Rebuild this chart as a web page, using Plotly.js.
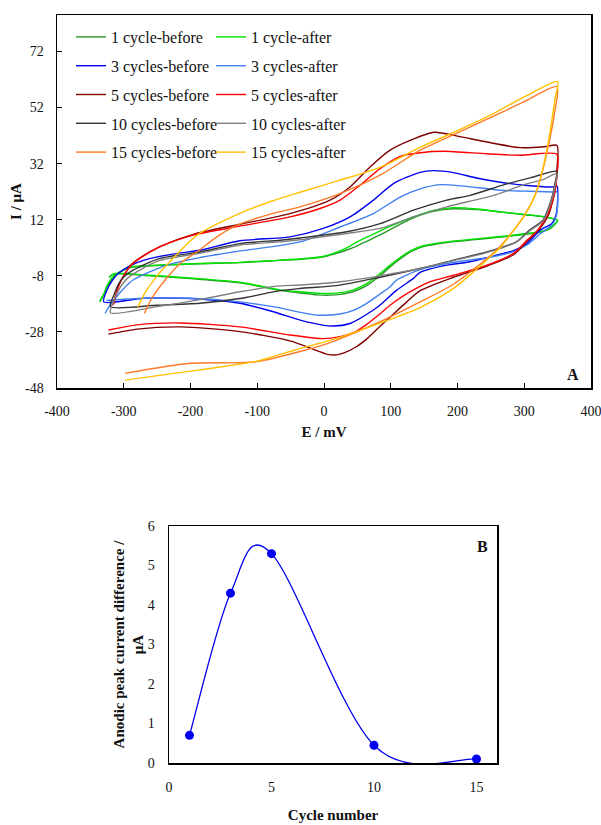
<!DOCTYPE html>
<html><head><meta charset="utf-8">
<script src="https://cdn.plot.ly/plotly-3.0.1.min.js"></script>
<style>html,body{margin:0;padding:0;background:#fff}#chart{width:601px;height:825px}</style>
</head><body><div id="chart"></div>
<script>
// ---------- Panel A data: potential E (mV) and current I (µA) ----------
const c1b_E = [-336,-330,-325,-315,-300,-290,-250,-186,-126,-66,-36,0,14,34,49,64,84,99,119,134,164,194,230,264,300,324,342,350, 340,324,280,230,184,150,130,115,99,84,64,44,24,9,-10,-36,-66,-126,-200,-267,-315,-322];
const c1b_I = [-17.3,-14.8,-12,-8.4,-6,-5,-4.3,-3.7,-3.3,-2.5,-2.1,-1.2,-0.3,1.2,2.6,4.3,6.6,8.5,11,12.7,15,15.9,15.6,14.8,13.8,13.2,12.4,11.8, 9,7.6,6.2,5,3.9,2.5,0.6,-1.8,-4.8,-8,-11.5,-13.6,-14.6,-14.9,-14.8,-14.1,-13.2,-10.5,-9,-7.9,-7.4,-8.6];

const c1a_E = [-336,-330,-325,-315,-300,-290,-250,-186,-126,-66,-36,0,14,34,49,64,84,99,119,134,164,194,230,264,300,324,342,350, 340,324,280,230,184,150,130,115,99,84,64,44,24,9,-10,-36,-66,-126,-200,-267,-315,-322];
const c1a_I = [-17,-14.5,-11.5,-8,-5.8,-4.8,-4.2,-3.6,-3.2,-2.4,-2,-1,0,2,4,5.8,8,9.6,11.6,13,15.3,16.3,15.8,14.8,13.9,13.3,12.5,11.8, 9.2,7.8,6.4,5.2,4.1,2.8,1,-1.3,-4.2,-7.2,-10.8,-13,-14,-14.3,-14.2,-13.7,-13,-10.3,-8.8,-7.7,-7.2,-8.4];

const c3b_E = [-330,-325,-320,-310,-298,-280,-260,-220,-186,-126,-51,-1,39,74,104,144,164,194,230,269,300,343,349, 349,346,341,324,304,284,269,219,184,144,134,109,84,74,39,14,-26,-76,-126,-200,-270,-330];
const c3b_I = [-17.3,-13,-10.7,-7.5,-5.4,-3.3,-1.8,0,1.1,4.5,5.9,8.9,13,19,24.9,28.9,29.5,28.8,26.8,25.2,24.3,23.7,24, 15.4,12.5,10.6,8.3,3.5,1,0,-3,-4.2,-6.8,-8.9,-13.1,-18.4,-20.2,-25,-25.9,-24.4,-20.8,-17.8,-16.1,-16,-17.3];

const c3a_E = [-328,-322,-315,-300,-286,-260,-236,-186,-136,-36,24,74,114,144,174,210,264,300,343,349, 349,346,341,324,304,284,250,184,144,109,99,84,64,44,24,-11,-76,-126,-200,-270,-326];
const c3a_I = [-21.4,-19,-16.7,-12.5,-9.5,-6.5,-4.2,-1.5,0.5,4.1,9.4,14.2,20.1,23,24.5,24,22.5,22.2,21.9,22, 14.5,12,10,7,3,0.6,-1.3,-3.6,-5.8,-9.5,-11.9,-14.5,-17.8,-20.3,-21.6,-22,-19,-17.3,-16,-16,-16.8];

const c5b_E = [-315,-308,-300,-290,-275,-245,-196,-126,-51,9,39,69,99,129,165,200,244,294,330,349, 349,347,343,336,324,304,284,244,194,144,124,100,84,65,49,30,19,5,-16,-51,-126,-215,-280,-323];
const c5b_I = [-18,-11.5,-8,-4.3,-1.5,2.5,6.8,10.4,14.2,19,23.7,30.8,36.8,40.3,43.2,41.8,39.7,37.7,38,38.5, 30,24,19,13.5,9,4.2,-0.5,-4.5,-8.5,-13.3,-17.3,-22.5,-26,-30.3,-33.2,-35.5,-36.2,-36,-34.2,-31.2,-27.9,-26.2,-27,-28.8];

const c5a_E = [-316,-308,-301,-290,-276,-246,-196,-126,-51,-6,24,54,84,114,144,180,244,294,349, 349,346,340,334,324,318,304,284,244,194,159,144,120,99,84,64,44,24,0,-51,-126,-215,-280,-323];
const c5a_I = [-18.4,-12,-8.4,-4.5,-1.8,2.3,6.5,9.7,13,16,19,24.3,30.2,34.6,35.9,36.4,35.5,35,35.3, 28,22,17,13.5,9.5,7.7,4.7,0,-4.2,-7.8,-10.1,-11.8,-15,-18.5,-21.5,-25.3,-28.3,-29.7,-30.4,-29.1,-26.2,-24.8,-25.5,-27.3];

const c10b_E = [-320,-315,-308,-300,-286,-246,-186,-126,-66,-36,34,84,134,184,219,270,310,349, 346,343,336,328,308,288,244,194,144,84,24,-36,-66,-126,-186,-250,-320];
const c10b_I = [-19,-15,-11,-8.4,-6,-1.8,0.5,3.5,4.7,5.5,7.7,10.6,15.4,19,20.7,24.5,27,29.2, 25,21.3,16,11.8,8.3,4.1,0.5,-2.4,-5.4,-8.5,-11.3,-12.5,-13.3,-16.1,-17.8,-18.5,-19];

const c10a_E = [-320,-315,-305,-295,-280,-246,-186,-126,-66,34,84,134,184,254,300,330,349, 346,343,336,328,308,288,244,194,144,84,24,-36,-66,-126,-186,-250,-320];
const c10a_I = [-21.2,-17,-12,-9,-6.5,-2.5,0,3,4.1,7.1,8.9,13,16.6,20.7,24.5,26.5,28.5, 24,20.5,15.5,11.5,8,4,0.3,-2.6,-5.4,-8,-10.1,-11.3,-11.6,-13.7,-16.5,-19,-21.2];

const c15b_E = [-269,-258,-238,-215,-200,-186,-160,-126,-80,-36,24,84,144,200,250,300,349, 345,338,328,315,300,280,260,234,194,144,89,9,-36,-100,-126,-200,-298];
const c15b_I = [-21.4,-16,-9.5,-3.5,-1,1.3,6,10.5,14,16.6,21.3,27.9,36.8,43,48.5,54.1,59.5, 49.5,40.5,30,20,13.5,7,1.5,-3.8,-11,-17.3,-23.8,-31.8,-35,-38.6,-39,-39.2,-42.8];

const c15a_E = [-279,-268,-250,-225,-200,-186,-160,-126,-80,-36,24,84,144,200,250,300,350, 346,341,334,319,299,280,264,250,234,194,144,89,9,-36,-100,-126,-200,-298];
const c15a_I = [-19.2,-14,-8,-1.5,4.5,7.2,10.5,14.3,18.5,21.8,26.1,30.7,37.8,43.8,49.4,55.8,61.3, 55,47,37,22.5,13,7,2,-1,-4.5,-12.5,-19.3,-24.4,-31,-33.9,-38.4,-39.5,-42,-45.2];

const seriesNames = ["1 cycle-before","1 cycle-after","3 cycles-before","3 cycles-after","5 cycles-before","5 cycles-after","10 cycles-before","10 cycles-after","15 cycles-before","15 cycles-after"];
const seriesColors = ["#2b962b","#00e400","#0000f0","#3f7ff2","#800000","#ff0000","#333333","#808080","#ff7a26","#ffc000"];
const seriesE = [c1b_E,c1a_E,c3b_E,c3a_E,c5b_E,c5a_E,c10b_E,c10a_E,c15b_E,c15a_E];
const seriesI = [c1b_I,c1a_I,c3b_I,c3a_I,c5b_I,c5a_I,c10b_I,c10a_I,c15b_I,c15a_I];

const xTicksA = [-400,-300,-200,-100,0,100,200,300,400];
const xTickTextA = ["-400","-300","-200","-100","0","100","200","300","400"];
const yTicksA = [-48,-28,-8,12,32,52,72];
const yTickTextA = ["-48","-28","-8","12","32","52","72"];

// ---------- Panel B data ----------
const cycles = [1,3,5,10,15];
const peakDiff = [0.7,4.3,5.3,0.45,0.1];
const xTicksB = [0,5,10,15];
const yTicksB = [0,1,2,3,4,5,6];

const FONT = "Liberation Serif";
const W = 601, H = 825;
const px = v => v / W;
const py = v => 1 - v / H;

// smoothed (Bezier) line through the panel B points, drawn on the x2/y2 axes
function smoothPath(xs, ys) {
  const n = xs.length;
  const P = i => [xs[Math.max(0, Math.min(n - 1, i))], ys[Math.max(0, Math.min(n - 1, i))]];
  let d = 'M' + xs[0] + ',' + ys[0];
  for (let i = 0; i < n - 1; i++) {
    const p0 = P(i - 1), p1 = P(i), p2 = P(i + 1), p3 = P(i + 2);
    const c1 = [p1[0] + (p2[0] - p0[0]) / 6, p1[1] + (p2[1] - p0[1]) / 6];
    const c2 = [p2[0] - (p3[0] - p1[0]) / 6, p2[1] - (p3[1] - p1[1]) / 6];
    d += ' C' + c1[0] + ',' + c1[1] + ' ' + c2[0] + ',' + c2[1] + ' ' + p2[0] + ',' + p2[1];
  }
  return d;
}

const traces = [];
for (let k = 0; k < seriesNames.length; k++) {
  traces.push({
    type: 'scatter', mode: 'lines',
    x: seriesE[k], y: seriesI[k],
    name: seriesNames[k],
    legend: (k % 2 === 0) ? 'legend' : 'legend2',
    legendgroup: 'g' + k,
    line: {color: seriesColors[k], width: 1.4, shape: 'spline', smoothing: 0.7},
    xaxis: 'x', yaxis: 'y',
    hoverinfo: 'skip'
  });
}
traces.push({
  type: 'scatter', mode: 'markers', x: cycles, y: peakDiff,
  marker: {color: '#0000ee', size: 9},
  cliponaxis: false,
  xaxis: 'x2', yaxis: 'y2', showlegend: false, hoverinfo: 'skip'
});

const axisCommon = {
  showline: true, mirror: true, linecolor: '#000', linewidth: 1.5,
  showgrid: false, zeroline: false,
  tickfont: {family: FONT, size: 14, color: '#111'},
  ticks: 'inside', ticklen: 5, tickcolor: '#000', tickwidth: 1,
  ticklabeloverflow: 'allow'
};
const titleFont = {family: FONT, size: 15, color: '#111'};

const layout = {
  width: W, height: H,
  margin: {l: 0, r: 0, t: 0, b: 0},
  paper_bgcolor: '#fff', plot_bgcolor: '#fff',
  font: {family: FONT, color: '#111'},
  xaxis: Object.assign({}, axisCommon, {
    domain: [px(57), px(591)], anchor: 'y', range: [-400, 400],
    tickmode: 'array', tickvals: xTicksA, ticktext: xTickTextA, ticklabelstandoff: 10,
    title: {text: '<b>E / mV</b>', font: titleFont, standoff: 8}
  }),
  yaxis: Object.assign({}, axisCommon, {
    domain: [py(388), py(15)], anchor: 'x', range: [-48, 85],
    tickmode: 'array', tickvals: yTicksA, ticktext: yTickTextA, ticklabelstandoff: 9,
    title: {text: '<b>I / μA</b>', font: titleFont, standoff: 0}
  }),
  xaxis2: Object.assign({}, axisCommon, {
    domain: [px(169), px(497)], anchor: 'y2', range: [0, 16],
    tickmode: 'array', tickvals: xTicksB, ticks: '', ticklabelstandoff: 11,
    title: {text: '<b>Cycle number</b>', font: titleFont, standoff: 15}
  }),
  yaxis2: Object.assign({}, axisCommon, {
    domain: [py(763), py(526)], anchor: 'x2', range: [0, 6],
    tickmode: 'array', tickvals: yTicksB, ticks: '', ticklabelstandoff: 10,
    title: {text: '<b>Anodic peak current difference /<br>μA</b>', font: titleFont, standoff: 0}
  }),
  legend: {
    x: px(71), y: py(20), xanchor: 'left', yanchor: 'top',
    bgcolor: 'rgba(0,0,0,0)', borderwidth: 0,
    font: {family: FONT, size: 16, color: '#111'},
    tracegroupgap: 5, itemwidth: 30
  },
  legend2: {
    x: px(211), y: py(20), xanchor: 'left', yanchor: 'top',
    bgcolor: 'rgba(0,0,0,0)', borderwidth: 0,
    font: {family: FONT, size: 16, color: '#111'},
    tracegroupgap: 5, itemwidth: 30
  },
  shapes: [
    {type: 'path', xref: 'x2', yref: 'y2', path: smoothPath(cycles, peakDiff),
     line: {color: '#0000ee', width: 1.3}, layer: 'below'}
  ],
  annotations: [
    {text: '<b>A</b>', x: px(573), y: py(374), xref: 'paper', yref: 'paper', showarrow: false,
     xanchor: 'center', yanchor: 'middle', font: {family: FONT, size: 16, color: '#111'}},
    {text: '<b>B</b>', x: px(482), y: py(546), xref: 'paper', yref: 'paper', showarrow: false,
     xanchor: 'center', yanchor: 'middle', font: {family: FONT, size: 16, color: '#111'}}
  ],
  showlegend: true
};

Plotly.newPlot('chart', traces, layout, {staticPlot: true, displayModeBar: false});
</script>
</body></html>
